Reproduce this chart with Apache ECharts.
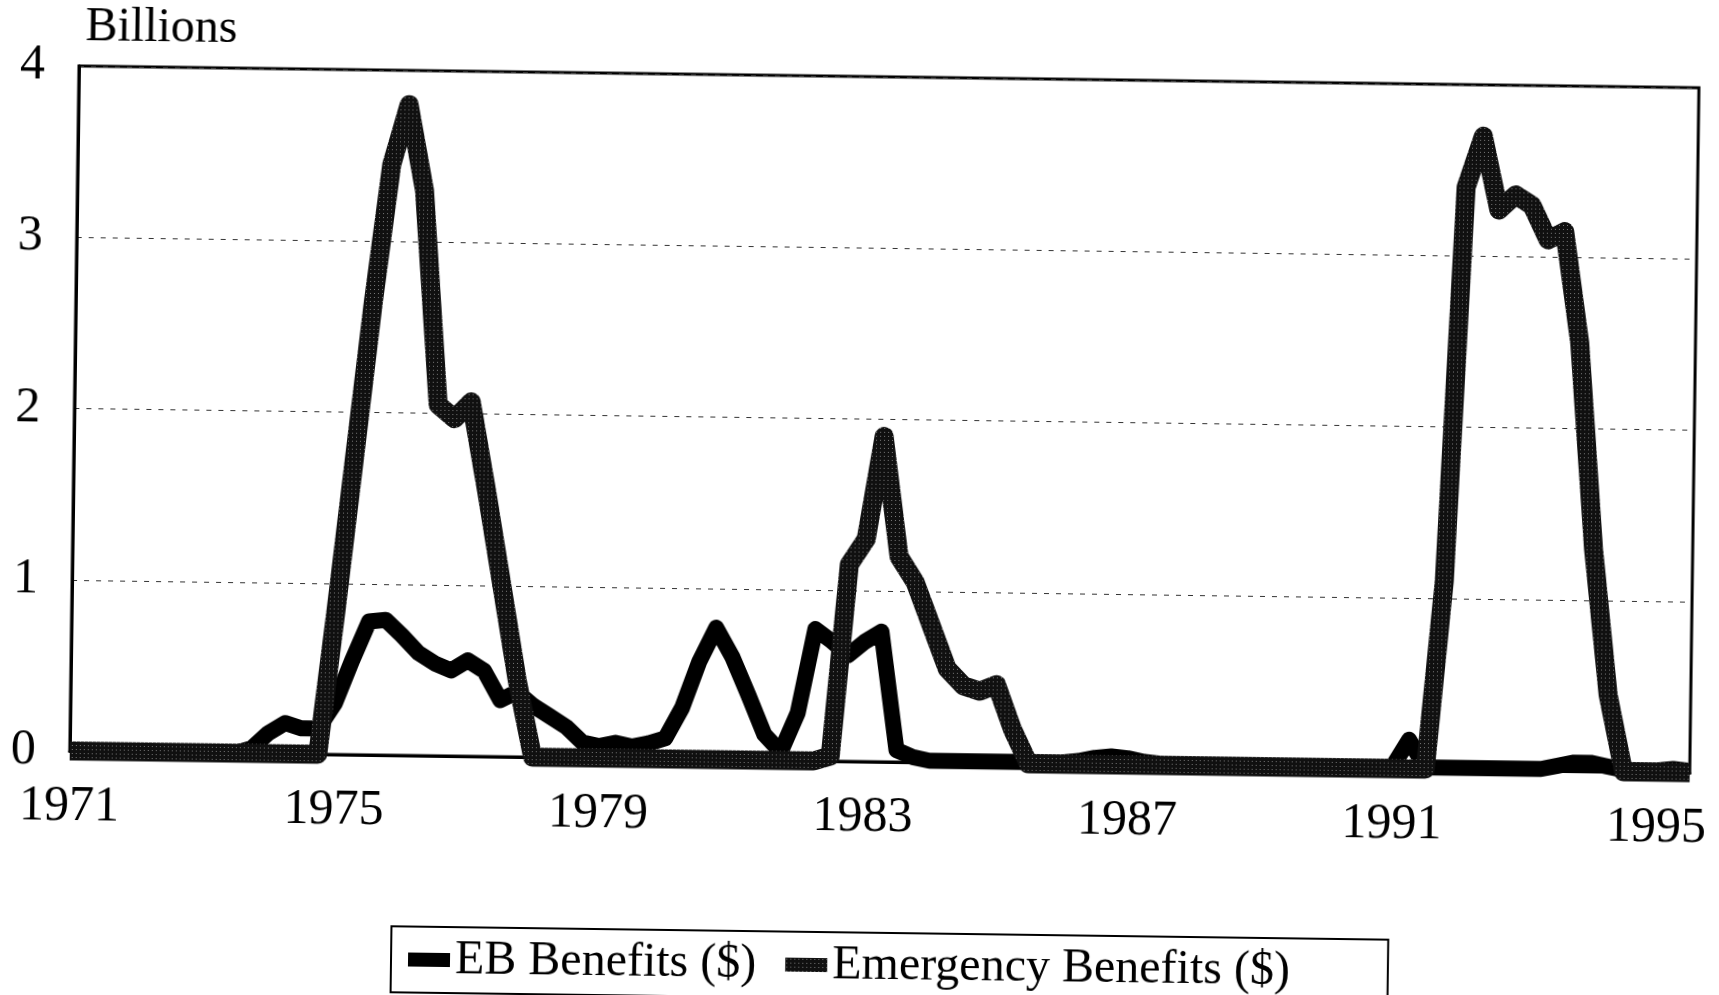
<!DOCTYPE html>
<html>
<head>
<meta charset="utf-8">
<script src="https://cdn.jsdelivr.net/npm/echarts@6.0.0/dist/echarts.min.js"></script>
<style>
	html, body {
		margin: 0;
		padding: 0;
		background: #fff;
	}
	/* the scanned original is tilted a little clockwise */
	#chart {
		width: 1719px;
		height: 995px;
		transform: rotate(0.77deg);
		transform-origin: 79px 66px;
	}
</style>
</head>
<body>
<div id="chart"></div>
<script>
// quarterly, 1971 Q1 .. 1995 Q3
var quarters = [];
for (var y = 1971; y <= 1995; y++) {
	for (var q = 1; q <= 4; q++) {
		quarters.push(y + " Q" + q);
	}
}
quarters = quarters.slice(0, 99);

var yearLabels = ["1971", "1975", "1979", "1983", "1987", "1991", "1995"];

// billions of dollars
var ebBenefits = [
	0, 0, 0, 0, 0, 0, 0, 0, 0, 0,
	0, 0.03, 0.12, 0.18, 0.15, 0.15, 0.3, 0.55, 0.78, 0.79,
	0.7, 0.6, 0.54, 0.5, 0.56, 0.5, 0.33, 0.38, 0.3, 0.24,
	0.18, 0.09, 0.07, 0.09, 0.07, 0.09, 0.12, 0.3, 0.57, 0.77,
	0.6, 0.38, 0.15, 0.05, 0.28, 0.77, 0.7, 0.62, 0.7, 0.76,
	0.07, 0.03, 0.01, 0.01, 0.01, 0.01, 0.01, 0.01, 0.01, 0.01,
	0.01, 0.02, 0.04, 0.05, 0.04, 0.02, 0.01, 0.01, 0.01, 0.01,
	0.01, 0.01, 0.01, 0.01, 0.01, 0.01, 0.01, 0.01, 0.01, 0.01,
	0.01, 0.17, 0.01, 0.01, 0.01, 0.01, 0.01, 0.01, 0.01, 0.01,
	0.03, 0.05, 0.05, 0.03, 0.01, 0.01, 0.01, 0.02, 0.01
];
var emergencyBenefits = [
	0, 0, 0, 0, 0, 0, 0, 0, 0, 0,
	0, 0, 0, 0, 0, 0, 0.85, 1.75, 2.65, 3.45,
	3.8, 3.3, 2.05, 1.97, 2.07, 1.55, 1.0, 0.45, 0, 0,
	0, 0, 0, 0, 0, 0, 0, 0, 0, 0,
	0, 0, 0, 0, 0, 0, 0.03, 1.15, 1.3, 1.9,
	1.2, 1.05, 0.8, 0.55, 0.45, 0.42, 0.46, 0.2, 0, 0,
	0, 0, 0, 0, 0, 0, 0, 0, 0, 0,
	0, 0, 0, 0, 0, 0, 0, 0, 0, 0,
	0, 0, 0, 1.1, 3.4, 3.7, 3.27, 3.36, 3.3, 3.1,
	3.15, 2.5, 1.3, 0.45, 0, 0, 0, 0, 0
];

// dark stippled fill, like the scanned grey line
function stipple() {
	var c = document.createElement("canvas");
	c.width = 4;
	c.height = 4;
	var g = c.getContext("2d");
	g.fillStyle = "#101010";
	g.fillRect(0, 0, 4, 4);
	g.fillStyle = "#7a7a7a";
	g.fillRect(1, 1, 1, 1);
	return { image: c, repeat: "repeat" };
}
var grayFill = stipple();
var serif = '"Liberation Serif", "Times New Roman", serif';

var myChart = echarts.init(document.getElementById("chart"), null, { renderer: "canvas" });
myChart.setOption({
	animation: false,
	backgroundColor: "#fff",
	textStyle: {
		fontFamily: serif,
	},
	graphic: [
		{
			type: "text",
			left: 85,
			top: 3,
			style: {
				text: "Billions",
				font: "48px " + serif,
				fill: "#000",
			},
		},
	],
	grid: {
		left: 79,
		top: 66,
		width: 1622,
		height: 685,
		show: true,
		borderColor: "#000",
		borderWidth: 3,
	},
	legend: {
		left: 403,
		top: 922,
		orient: "horizontal",
		icon: "rect",
		itemWidth: 42,
		itemHeight: 14,
		itemGap: 29,
		padding: [9, 98, 9, 17],
		borderColor: "#000",
		borderWidth: 2,
		itemStyle: {
			borderWidth: 0,
		},
		textStyle: {
			fontSize: 48,
			fontFamily: serif,
			color: "#000",
		},
		data: [
			{ name: "EB Benefits ($)", itemStyle: { color: "#000" } },
			{ name: "Emergency Benefits ($)", itemStyle: { color: grayFill } },
		],
	},
	xAxis: {
		type: "category",
		data: quarters,
		boundaryGap: false,
		axisTick: {
			show: false,
		},
		axisLine: {
			lineStyle: {
				color: "#000",
				width: 3,
			},
		},
		axisLabel: {
			interval: 15,
			margin: 31,
			fontSize: 50,
			fontFamily: serif,
			color: "#000",
			formatter: function (val, idx) {
				return yearLabels[idx / 16] || "";
			},
		},
		splitLine: {
			show: false,
		},
	},
	yAxis: {
		type: "value",
		min: 0,
		max: 4,
		interval: 1,
		axisLine: {
			show: true,
			lineStyle: {
				color: "#000",
				width: 3,
			},
		},
		axisTick: {
			show: false,
		},
		axisLabel: {
			margin: 34,
			fontSize: 50,
			fontFamily: serif,
			color: "#000",
		},
		splitLine: {
			lineStyle: {
				type: [5, 7],
				color: "#333",
				width: 1.2,
			},
		},
	},
	series: [
		{
			name: "EB Benefits ($)",
			type: "line",
			data: ebBenefits,
			symbol: "none",
			clip: false,
			itemStyle: { color: "#000" },
			lineStyle: {
				color: "#000",
				width: 16,
				cap: "butt",
				join: "round",
			},
		},
		{
			name: "Emergency Benefits ($)",
			type: "line",
			data: emergencyBenefits,
			symbol: "none",
			clip: false,
			itemStyle: { color: grayFill },
			lineStyle: {
				color: grayFill,
				width: 19,
				cap: "butt",
				join: "round",
			},
		},
	],
});
</script>
</body>
</html>
